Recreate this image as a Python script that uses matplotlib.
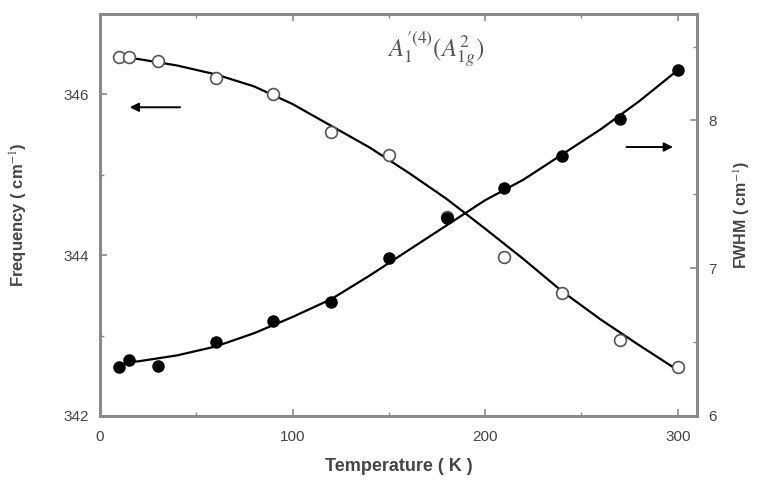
import matplotlib
matplotlib.use('Agg')
import matplotlib.pyplot as plt
import numpy as np

# measured points (open = frequency, filled = FWHM)
temp = [10, 15, 30, 60, 90, 120, 150, 180, 210, 240, 270, 300]
freq = [346.47, 346.47, 346.41, 346.20, 346.01, 345.53, 345.25, 344.48, 343.98, 343.53, 342.95, 342.61]
fwhm = [6.33, 6.38, 6.34, 6.50, 6.64, 6.77, 7.07, 7.34, 7.54, 7.76, 8.01, 8.34]

# fitted curves
fit_t_freq = [10, 20, 40, 60, 80, 100, 120, 140, 160, 180, 200, 220, 240, 260, 280, 300]
fit_freq = [346.46, 346.44, 346.36, 346.25, 346.10, 345.88, 345.61, 345.34, 345.03, 344.70,
            344.33, 343.95, 343.55, 343.20, 342.88, 342.57]
fit_t_fwhm = [15, 20, 40, 60, 80, 100, 120, 140, 160, 180, 200, 220, 240, 260, 280, 300]
fit_fwhm = [6.365, 6.37, 6.41, 6.47, 6.56, 6.67, 6.79, 6.95, 7.12, 7.29, 7.46, 7.60, 7.77,
            7.94, 8.13, 8.34]

plt.rcParams['font.family'] = ['Liberation Sans', 'DejaVu Sans']
plt.rcParams['mathtext.fontset'] = 'stix'
grey = '#8a8a8a'
txt = '#454545'

fig = plt.figure(figsize=(7.58, 4.92), dpi=100)
ax = fig.add_axes([0.1319, 0.1545, 0.7876, 0.817])
ax2 = ax.twinx()

ax.plot(fit_t_freq, fit_freq, color='black', lw=1.6, zorder=2)
ax.plot(temp, freq, linestyle='', marker='o', ms=8.5, mfc='white', mec='#555555', mew=1.2, zorder=3)
ax2.plot(fit_t_fwhm, fit_fwhm, color='black', lw=1.6, zorder=2)
ax2.plot(temp, fwhm, linestyle='', marker='o', ms=8, color='black', zorder=3)

ax.set_xlim(0, 310)
ax.set_ylim(342, 347)
ax2.set_ylim(6, 8.72)

ax.set_xticks([0, 100, 200, 300])
ax.set_xticks([50, 150, 250], minor=True)
ax.set_yticks([342, 344, 346])
ax.set_yticks([343, 345, 347], minor=True)
ax2.set_yticks([6, 7, 8])
ax2.set_yticks([6.5, 7.5, 8.5], minor=True)

for a in (ax, ax2):
    for s in a.spines.values():
        s.set_color(grey)
        s.set_linewidth(2)
ax.tick_params(which='both', direction='in', top=True, colors=grey, labelcolor=txt, labelsize=11)
ax.tick_params(axis='x', which='major', pad=10)
ax.tick_params(which='major', length=5, width=1.2)
ax.tick_params(axis='y', which='major', pad=8)
ax.tick_params(which='minor', length=3, width=1)
ax2.tick_params(which='both', direction='in', colors=grey, labelcolor=txt, labelsize=11)
ax2.tick_params(which='major', length=5, width=1.2, pad=8)
ax2.tick_params(which='minor', length=3, width=1)

ax.set_xlabel('Temperature ( K )', fontsize=13, fontweight='bold', color=txt, labelpad=10)
ax.set_ylabel('Frequency ( cm$^{-1}$)', fontsize=12, fontweight='bold', color=txt, labelpad=24)
ax2.set_ylabel('FWHM ( cm$^{-1}$)', fontsize=11.5, fontweight='bold', color=txt, labelpad=11)

# direction arrows
ax.annotate('', xy=(14, 345.84), xytext=(43, 345.84),
            arrowprops=dict(arrowstyle='-|>', color='black', lw=1.4, mutation_scale=13))
ax2.annotate('', xy=(299, 7.82), xytext=(272, 7.82),
             arrowprops=dict(arrowstyle='-|>', color='black', lw=1.4, mutation_scale=13))

ax.text(149, 346.55, r'$A_1^{\prime(4)}(A_{1g}^{2})$', fontsize=18, color='#555555',
        ha='left', va='center')

fig.savefig('out.png', dpi=100)
